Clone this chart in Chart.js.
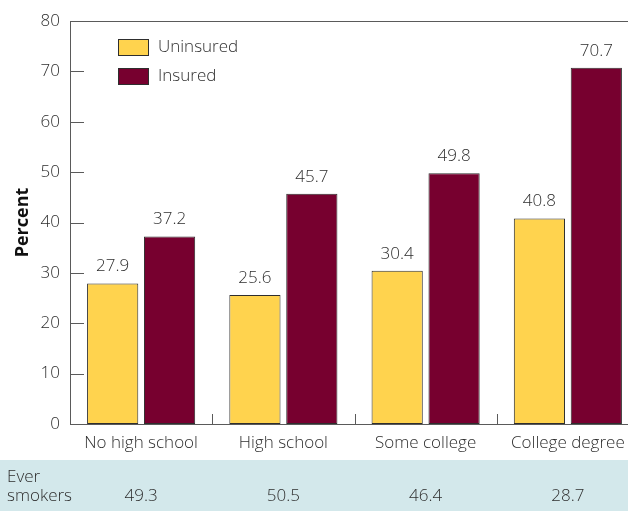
<!DOCTYPE html>
<html>
<head>
<meta charset="utf-8">
<script src="https://cdn.jsdelivr.net/npm/chart.js@4/dist/chart.umd.min.js"></script>
<style>
  html, body { margin: 0; padding: 0; background: #fff; overflow: hidden; }
  #wrap { position: relative; width: 646px; height: 511px; }
</style>
</head>
<body>
<div id="wrap"><canvas id="chart"></canvas></div>
<script>
// Education level groups and the two insurance series
const categories = ['No high school', 'High school', 'Some college', 'College degree'];
const uninsured = [27.9, 25.6, 30.4, 40.8];
const insured = [37.2, 45.7, 49.8, 70.7];
const smokers = [49.3, 50.5, 46.4, 28.7];
const yTicks = [0, 10, 20, 30, 40, 50, 60, 70, 80];

const yellow = '#FFD34E';
const maroon = '#77002F';
const ink = '#2e2e2e';
const axisColor = '#5a5a5a';
const band = '#D3E8EB';
const fontFamily = "'Open Sans', 'Noto Sans', sans-serif";
const textFont = '300 17px ' + fontFamily;

// Axis decorations: inward y ticks, top rule, group separators
const axisDecor = {
    id: 'axisDecor',
    afterDraw(chart) {
        const ctx = chart.ctx;
        const area = chart.chartArea;
        const x = chart.scales.x;
        const y = chart.scales.y;
        ctx.save();
        ctx.strokeStyle = axisColor;
        ctx.lineWidth = 1;
        ctx.beginPath();
        yTicks.forEach(function(t) {
            const py = Math.round(y.getPixelForValue(t)) + 0.5;
            ctx.moveTo(area.left, py);
            ctx.lineTo(area.left + 14, py);
        });
        // top rule
        const top = Math.round(area.top) + 0.5;
        ctx.moveTo(area.left, top);
        ctx.lineTo(chart.width, top);
        // separators between groups
        for (let i = 0; i < categories.length - 1; i++) {
            const px = Math.round((x.getPixelForValue(i) + x.getPixelForValue(i + 1)) / 2) + 0.5;
            ctx.moveTo(px, area.bottom);
            ctx.lineTo(px, area.bottom - 10);
        }
        ctx.stroke();
        ctx.restore();
    }
};

// Value labels above each bar
const barLabels = {
    id: 'barLabels',
    afterDatasetsDraw(chart) {
        const ctx = chart.ctx;
        ctx.save();
        ctx.font = textFont;
        ctx.fillStyle = ink;
        ctx.textAlign = 'center';
        ctx.textBaseline = 'middle';
        chart.data.datasets.forEach(function(ds, di) {
            chart.getDatasetMeta(di).data.forEach(function(bar, i) {
                ctx.fillText(ds.data[i].toFixed(1), bar.x, bar.y - 17);
            });
        });
        ctx.restore();
    }
};

// Legend drawn inside the plot area, top left
const innerLegend = {
    id: 'innerLegend',
    afterDraw(chart) {
        const ctx = chart.ctx;
        ctx.save();
        ctx.font = textFont;
        ctx.textBaseline = 'middle';
        chart.data.datasets.forEach(function(ds, i) {
            const bx = 118.5, by = 39.5 + i * 29;
            ctx.fillStyle = ds.backgroundColor;
            ctx.fillRect(bx, by, 30, 16);
            ctx.strokeStyle = ink;
            ctx.lineWidth = 1;
            ctx.strokeRect(bx, by, 30, 16);
            ctx.fillStyle = ink;
            ctx.fillText(ds.label, 158, by + 8);
        });
        ctx.restore();
    }
};

// Shaded "Ever smokers" row under the axis
const smokerRow = {
    id: 'smokerRow',
    beforeDraw(chart) {
        const ctx = chart.ctx;
        ctx.save();
        ctx.fillStyle = band;
        ctx.fillRect(0, 460, chart.width, chart.height - 460);
        ctx.restore();
    },
    afterDraw(chart) {
        const ctx = chart.ctx;
        const x = chart.scales.x;
        ctx.save();
        ctx.font = textFont;
        ctx.fillStyle = ink;
        ctx.textBaseline = 'middle';
        ctx.textAlign = 'left';
        ctx.fillText('Ever', 7, 477);
        ctx.fillText('smokers', 7, 496);
        ctx.textAlign = 'center';
        smokers.forEach(function(v, i) {
            ctx.fillText(v.toFixed(1), x.getPixelForValue(i), 496);
        });
        ctx.restore();
    }
};

const ctx = document.getElementById('chart').getContext('2d');
new Chart(ctx, {
    type: 'bar',
    data: {
        labels: categories,
        datasets: [
            {
                label: 'Uninsured',
                data: uninsured,
                backgroundColor: yellow,
                borderColor: ink,
                borderWidth: 1,
                borderSkipped: false
            },
            {
                label: 'Insured',
                data: insured,
                backgroundColor: maroon,
                borderColor: ink,
                borderWidth: 1,
                borderSkipped: false
            }
        ]
    },
    options: {
        responsive: true,
        maintainAspectRatio: false,
        animation: false,
        layout: {
            padding: { top: 21, right: 7, left: 0, bottom: 0 }
        },
        datasets: {
            bar: {
                categoryPercentage: 0.8,
                barPercentage: 0.9
            }
        },
        plugins: {
            legend: { display: false },
            tooltip: { enabled: false }
        },
        scales: {
            x: {
                grid: { display: false, drawTicks: false },
                border: { display: true, color: axisColor, width: 1 },
                ticks: {
                    color: ink,
                    padding: 9,
                    font: { family: fontFamily, size: 17, weight: '300' }
                },
                afterFit(scale) { scale.height = 87; }
            },
            y: {
                min: 0,
                max: 80,
                afterBuildTicks(scale) {
                    scale.ticks = yTicks.map(function(v) { return { value: v }; });
                },
                grid: { display: false, drawTicks: false },
                border: { display: true, color: axisColor, width: 1 },
                ticks: {
                    color: ink,
                    padding: 10,
                    font: { family: fontFamily, size: 17, weight: '300' }
                },
                title: {
                    display: true,
                    text: 'Percent',
                    color: '#111',
                    padding: { top: 12, bottom: 0 },
                    font: { family: fontFamily, size: 18, weight: 'bold' }
                },
                afterFit(scale) { scale.width = 70; }
            }
        }
    },
    plugins: [smokerRow, axisDecor, barLabels, innerLegend]
});
</script>
</body>
</html>
